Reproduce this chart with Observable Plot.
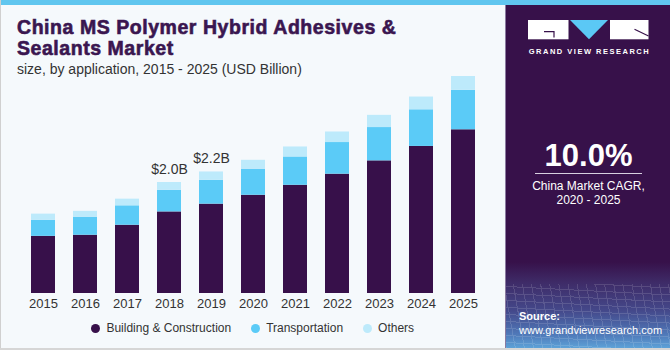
<!DOCTYPE html>
<html>
<head>
<meta charset="utf-8">
<script src="https://cdn.jsdelivr.net/npm/d3@7"></script>
<script src="https://cdn.jsdelivr.net/npm/@observablehq/plot@0.6"></script>
<style>
  html, body { margin: 0; padding: 0; background: #fff; }
  #root { position: relative; width: 670px; height: 350px; overflow: hidden; background: #f5f9fc;
    font-family: "Liberation Sans", Arial, sans-serif; box-sizing: border-box; }
  #root .abs { position: absolute; }
  #title { left: 17px; top: 16.7px; font-size: 19.5px; line-height: 21.7px; font-weight: bold; color: #3a1650;
    letter-spacing: 0.55px; -webkit-text-stroke: 0.6px #3a1650; white-space: nowrap; }
  #subtitle { left: 17px; top: 61.1px; font-size: 14px; line-height: 16px; color: #333; white-space: nowrap; }
  #chart { left: 0; top: 70px; }
  #legend { left: 0; top: 320.3px; width: 505px; height: 16px; display: flex; justify-content: center; align-items: center;
    font-size: 12px; line-height: 16px; color: #333; }
  .item { display: flex; align-items: center; margin: 0 9.75px; }
  .dot { width: 9px; height: 9px; border-radius: 50%; margin-right: 6.5px; }
  #panel { left: 505px; top: 0; width: 165px; height: 350px; background: #37114a; border-left: 1px solid #8a7aa0; box-sizing: border-box; }
  #mesh { left: 0; top: 262px; width: 165px; height: 88px;
    background: linear-gradient(to bottom, rgba(55,17,74,1) 0%, #3e2a66 22%, #44488a 55%, #4f78b8 82%, #5fa8dc 100%); }
  #meshlines { left: 0; top: 284px; width: 165px; height: 66px; opacity: 0.13;
    background-image: repeating-linear-gradient(80deg, #fff 0 1px, transparent 1px 9px),
                      repeating-linear-gradient(3deg, #fff 0 1px, transparent 1px 7px); }
  #topbar { left: 0; top: 0; width: 670px; height: 5px; background: #60c6ef; }
  #gvr { left: 21px; top: 46.6px; width: 125px; text-align: center; font-size: 7.5px; line-height: 9px; font-weight: bold;
    color: #fff; letter-spacing: 1.5px; white-space: nowrap; }
  #big { left: 0; top: 139.5px; width: 165px; text-align: center; font-size: 31px; line-height: 31px; font-weight: bold; color: #fff; }
  #rule { left: 29px; top: 172.8px; width: 107px; height: 1px; background: #d8d0e0; }
  #cagr { left: 0; top: 178.8px; width: 165px; text-align: center; font-size: 12px; line-height: 14px; color: #fff; }
  #source { left: 13px; top: 308.5px; font-size: 11px; line-height: 14px; color: #fff; white-space: nowrap; }
  #borderL { left: 0; top: 0; width: 1px; height: 350px; background: #d0d0d0; }
  #borderB { left: 0; top: 348px; width: 670px; height: 2px; background: #d6d6d6; }
</style>
</head>
<body>
<div id="root">
  <div class="abs" id="title">China MS Polymer Hybrid Adhesives &amp;<br>Sealants Market</div>
  <div class="abs" id="subtitle">size, by application, 2015 - 2025 (USD Billion)</div>
  <div class="abs" id="chart"></div>
  <div class="abs" id="legend"></div>
  <div class="abs" id="panel">
    <div class="abs" id="mesh"></div>
    <div class="abs" id="meshlines"></div>
    <svg class="abs" style="left:0;top:0" width="165" height="45">
      <rect x="22" y="20" width="40.5" height="19.3" fill="#fff"/>
      <path d="M38 31.7 H48 V37.5" stroke="#37114a" stroke-width="1.2" fill="none"/>
      <polygon points="64,20 102,20 83,39.3" fill="#5bc8f5"/>
      <rect x="104" y="20" width="38.5" height="19.3" fill="#fff"/>
      <path d="M128.5 29.3 L142.5 36" stroke="#37114a" stroke-width="1.2" fill="none"/>
    </svg>
    <div class="abs" id="gvr">GRAND VIEW RESEARCH</div>
    <div class="abs" id="big">10.0%</div>
    <div class="abs" id="rule"></div>
    <div class="abs" id="cagr">China Market CAGR,<br>2020 - 2025</div>
    <div class="abs" id="source"><b>Source:</b><br>www.grandviewresearch.com</div>
  </div>
  <div class="abs" id="topbar"></div>
  <div class="abs" id="borderL"></div>
  <div class="abs" id="borderB"></div>
</div>
<script>
// ---- data ----
const years = ["2015","2016","2017","2018","2019","2020","2021","2022","2023","2024","2025"];
const building = [1.03, 1.05, 1.23, 1.47, 1.61, 1.77, 1.95, 2.15, 2.39, 2.65, 2.95];
const transportation = [0.29, 0.32, 0.35, 0.39, 0.43, 0.47, 0.51, 0.57, 0.60, 0.66, 0.71];
const others = [0.11, 0.11, 0.12, 0.14, 0.15, 0.16, 0.18, 0.19, 0.22, 0.23, 0.25];
const segments = ["Building & Construction", "Transportation", "Others"];
const segmentColors = ["#37104a", "#5bcbf7", "#bdeafb"];
const annotYears = ["2018", "2019"];
const annotLabels = ["$2.0B", "$2.2B"];

// ---- build table ----
const series = [building, transportation, others];
const rows = [];
years.forEach((yr, i) => {
  segments.forEach((s, j) => rows.push({year: yr, segment: s, value: series[j][i]}));
});
const totals = years.map((yr, i) => building[i] + transportation[i] + others[i]);
const annots = annotYears.map((yr, k) => ({year: yr, label: annotLabels[k], total: totals[years.indexOf(yr)]}));

const chart = Plot.plot({
  width: 505,
  height: 243,
  marginLeft: 22,
  marginRight: 21.5,
  marginTop: 1,
  marginBottom: 20,
  style: {background: "transparent", fontFamily: "'Liberation Sans', Arial, sans-serif", fontSize: "13px", color: "#333"},
  x: {domain: years, paddingInner: 0.42, paddingOuter: 0.2, label: null},
  y: {domain: [0, 4], axis: null},
  color: {domain: segments, range: segmentColors},
  marks: [
    Plot.barY(rows, {x: "year", y: "value", fill: "segment", order: null}),
    Plot.text(annots, {x: "year", y: "total", text: "label", lineAnchor: "bottom", dy: -9, fontSize: 14, fill: "#333"}),
    Plot.axisX({tickSize: 0, tickPadding: 5, fontSize: 13, label: null, fill: "#333"})
  ]
});
document.getElementById("chart").appendChild(chart);

// ---- legend ----
const legend = document.getElementById("legend");
segments.forEach((s, j) => {
  const item = document.createElement("div");
  item.className = "item";
  const dot = document.createElement("span");
  dot.className = "dot";
  dot.style.background = segmentColors[j];
  const label = document.createElement("span");
  label.textContent = s;
  item.appendChild(dot);
  item.appendChild(label);
  legend.appendChild(item);
});
</script>
</body>
</html>
